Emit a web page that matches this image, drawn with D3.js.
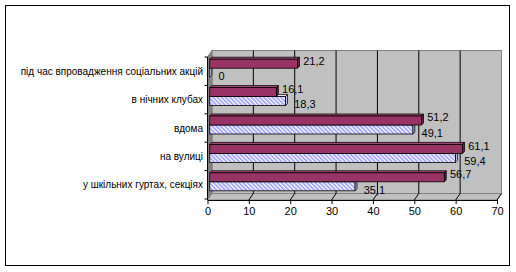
<!DOCTYPE html>
<html>
<head>
<meta charset="utf-8">
<script src="https://cdn.jsdelivr.net/npm/d3@7"></script>
<style>
  body { margin: 0; background: #fff; }
  text { font-family: "Liberation Sans", Arial, sans-serif; font-size: 11px; fill: #000; }
  .cat-label { font-size: 10px; }
</style>
</head>
<body>
<div id="chart"></div>
<script>
// chart data
const categories = [
    "під час впровадження соціальних акцій",
    "в нічних клубах",
    "вдома",
    "на вулиці",
    "у шкільних гуртах, секціях"
];
const series1 = [21.2, 16.1, 51.2, 61.1, 56.7];
const series2 = [0, 18.3, 49.1, 59.4, 35.1];
const xTicks = [0, 10, 20, 30, 40, 50, 60, 70];

const width = 516, height = 272;
// 3d depth of the plot box
const depth = {dx: 4.5, dy: -6.5};
const front = {top: 57, bottom: 200};
const barH = 9, barD = 2;

const svg = d3.select("#chart").append("svg")
    .attr("width", width)
    .attr("height", height);

const defs = svg.append("defs");
const hatch = defs.append("pattern")
    .attr("id", "hatch")
    .attr("patternUnits", "userSpaceOnUse")
    .attr("width", 3)
    .attr("height", 3)
    .attr("patternTransform", "rotate(-45)");
hatch.append("rect").attr("width", 3).attr("height", 3).attr("fill", "#fff");
hatch.append("rect").attr("width", 1.6).attr("height", 3).attr("fill", "#9999ff");

// outer frame
svg.append("rect")
    .attr("x", 5.5).attr("y", 5.5)
    .attr("width", 504).attr("height", 260)
    .attr("fill", "none").attr("stroke", "#000");

const xScale = d3.scaleLinear().domain([0, 70]).range([207.5, 497]);
const yScale = d3.scaleBand().domain(categories).range([front.top, front.bottom - 1]);

const x0 = xScale(0), x1 = xScale(70);
const pts = function(a) { return a.map(function(p) { return p.join(","); }).join(" "); };

// back wall
svg.append("rect")
    .attr("x", x0 + depth.dx).attr("y", front.top + depth.dy)
    .attr("width", x1 - x0).attr("height", front.bottom - front.top)
    .attr("fill", "#c0c0c0").attr("stroke", "#808080");

// left wall
svg.append("polygon")
    .attr("points", pts([[x0, front.top], [x0 + depth.dx, front.top + depth.dy],
        [x0 + depth.dx, front.bottom + depth.dy], [x0, front.bottom]]))
    .attr("fill", "#808080").attr("stroke", "#808080");

// floor
svg.append("polygon")
    .attr("points", pts([[x0, front.bottom], [x1, front.bottom],
        [x1 + depth.dx, front.bottom + depth.dy], [x0 + depth.dx, front.bottom + depth.dy]]))
    .attr("fill", "#c0c0c0").attr("stroke", "#808080");

// gridlines on back wall and floor
const grid = svg.append("g").attr("stroke", "#000");
xTicks.slice(1).forEach(function(t) {
    const gx = xScale(t);
    if (t < 70) {
        grid.append("line")
            .attr("x1", gx + depth.dx).attr("x2", gx + depth.dx)
            .attr("y1", front.top + depth.dy).attr("y2", front.bottom + depth.dy);
    }
    grid.append("line")
        .attr("x1", gx).attr("y1", front.bottom)
        .attr("x2", gx + depth.dx).attr("y2", front.bottom + depth.dy);
});

// bars, sitting half way into the box
const bx = depth.dx / 2;
const bars = svg.append("g");

function drawBar(v, y, fill, side, top) {
    const xa = x0 + bx, xb = xScale(v) + bx;
    // top face
    bars.append("polygon")
        .attr("points", pts([[xa, y], [xa + barD, y - barD], [xb + barD, y - barD], [xb, y]]))
        .attr("fill", top).attr("stroke", "#000").attr("stroke-width", 0.8);
    // side face
    bars.append("polygon")
        .attr("points", pts([[xb, y], [xb + barD, y - barD], [xb + barD, y + barH - barD], [xb, y + barH]]))
        .attr("fill", side).attr("stroke", "#000").attr("stroke-width", 0.8);
    // front face
    bars.append("rect")
        .attr("x", xa).attr("y", y)
        .attr("width", Math.max(0, xb - xa)).attr("height", barH)
        .attr("fill", fill).attr("stroke", "#000").attr("stroke-width", 0.8);
}

categories.forEach(function(c, i) {
    const cy = yScale(c) + yScale.bandwidth() / 2 - 3;
    drawBar(series2[i], cy, "url(#hatch)", "#ccccff", "#ffffff");
    drawBar(series1[i], cy - barH, "#993366", "#66223f", "#b34d80");
});

// value labels
const labels = svg.append("g");
categories.forEach(function(c, i) {
    const cy = yScale(c) + yScale.bandwidth() / 2 - 3;
    labels.append("text")
        .attr("x", xScale(series1[i]) + 8)
        .attr("y", cy - barH / 2 - 3)
        .attr("dy", "0.35em")
        .text(String(series1[i]).replace(".", ","));
    labels.append("text")
        .attr("x", xScale(series2[i]) + 11)
        .attr("y", cy + barH / 2 + 3.5)
        .attr("dy", "0.35em")
        .text(String(series2[i]).replace(".", ","));
});

// category axis
const yAxisG = svg.append("g").attr("stroke", "#000");
yAxisG.append("line")
    .attr("x1", x0).attr("x2", x0)
    .attr("y1", front.top).attr("y2", front.bottom);
d3.range(categories.length + 1).forEach(function(i) {
    const ty = front.top + i * yScale.step();
    yAxisG.append("line")
        .attr("x1", x0 - 3).attr("x2", x0)
        .attr("y1", ty).attr("y2", ty);
});

svg.append("g").selectAll("text").data(categories).enter()
    .append("text")
    .attr("class", "cat-label")
    .attr("x", 203)
    .attr("y", function(d) { return yScale(d) + yScale.bandwidth() / 2; })
    .attr("dy", "0.35em")
    .attr("text-anchor", "end")
    .text(function(d) { return d; });

// value axis
const xAxis = d3.axisBottom(xScale).tickValues(xTicks).tickSize(4).tickSizeOuter(0).tickPadding(3);
const xAxisG = svg.append("g")
    .attr("transform", "translate(0," + front.bottom + ")")
    .call(xAxis);
xAxisG.select(".domain").attr("stroke", "#000");
xAxisG.selectAll(".tick line").attr("stroke", "#000");
xAxisG.selectAll(".tick text")
    .attr("font-family", "Liberation Sans, Arial, sans-serif")
    .attr("font-size", 11)
    .attr("fill", "#000");
</script>
</body>
</html>
